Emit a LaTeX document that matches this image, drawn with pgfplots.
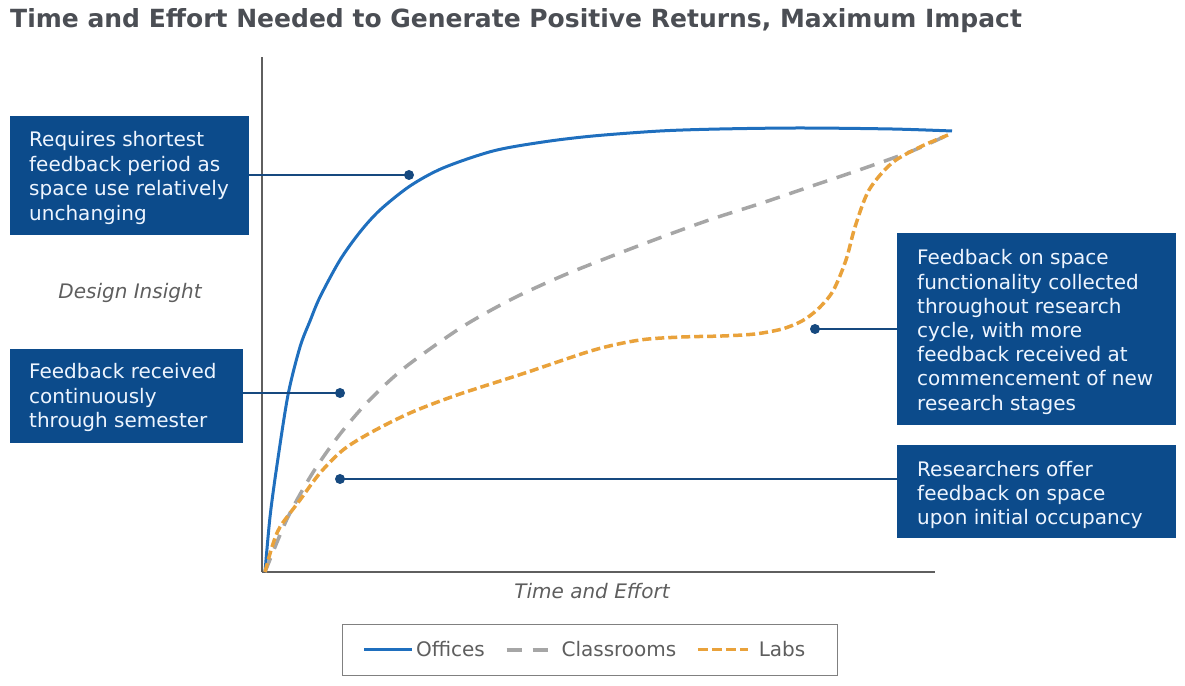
\documentclass[border=0pt]{standalone}
\usepackage{fontspec}
\setmainfont{DejaVu Sans}
\usepackage{pgfplots}
\pgfplotsset{compat=1.18}
\definecolor{offblue}{HTML}{1F6FBE}
\definecolor{clsgray}{HTML}{A6A6A6}
\definecolor{laborange}{HTML}{E9A23B}
\definecolor{boxnavy}{HTML}{0C4B8B}
\definecolor{leadnavy}{HTML}{16497F}
\definecolor{boxtext}{HTML}{EEF5FF}
\definecolor{axisgray}{HTML}{5F5F5F}
\definecolor{titlegray}{HTML}{4B4E54}
\definecolor{labelgray}{HTML}{5E5E5E}
\definecolor{legendgray}{HTML}{808080}
\newcommand{\boxfont}{\fontsize{20}{24}\selectfont}
\newcommand{\bl}[3]{\node[anchor=base west, inner sep=0pt, text=boxtext, font=\boxfont] at (#1,#2) {#3};}
\begin{document}
\begin{tikzpicture}[x=1pt,y=1pt]
\path[use as bounding box] (0,0) rectangle (1185,685);
\begin{axis}[
  at={(262pt,113pt)}, anchor=south west,
  scale only axis, width=673pt, height=515pt,
  xmin=0, xmax=673, ymin=0, ymax=515,
  axis lines=left,
  axis line style={-, draw=axisgray, line width=2pt},
  xtick=\empty, ytick=\empty,
  clip=false,
  legend columns=3,
  legend style={at={(0.1189,-0.101)}, anchor=north west,
    draw=legendgray, line width=1pt, inner xsep=20pt, inner ysep=17pt,
    font=\fontsize{20}{24}\selectfont, text=labelgray,
    nodes={inner sep=0pt},
    /tikz/every odd column/.append style={column sep=0pt},
    /tikz/every even column/.append style={column sep=20pt}},
]
\addplot[offblue, line width=3pt, smooth, forget plot] coordinates {
(3,0) (8,55) (15,107) (26,177) (38,225) (48,251) (58,275) (78,312) (98,340)
(118,362) (148,386) (181,404) (231,421) (281,430) (331,436) (398,441) (458,443)
(538,444) (630,443) (690,441)};
\addplot[clsgray, line width=3.5pt, smooth, dash pattern=on 15pt off 10pt, forget plot] coordinates {
(3,0) (25,53) (50,98) (75,134) (100,164) (125,189) (150,210) (200,245) (250,273)
(300,296) (350,316) (400,335) (450,353) (500,369) (550,386) (600,403) (650,421) (688,438)};
\addplot[laborange, line width=3.5pt, smooth, dash pattern=on 9pt off 4pt, forget plot] coordinates {
(3,0) (10,25) (18,45) (38,72) (58,99) (81,122) (108,139) (148,159) (195,177) (263,199)
(332,222) (378,232) (420,235) (460,236) (493,238) (520,243) (540,251) (556,263) (571,281) (584,312)
(593,345) (607,382) (630,409) (658,425) (686,437)};
\addlegendimage{legend image code/.code={\path[draw=none] (0pt,0pt) -- (52pt,0pt); \draw[offblue, line width=3pt] (0pt,0pt) -- (48pt,0pt);}}
\addlegendentry{Offices}
\addlegendimage{legend image code/.code={\path[draw=none] (0pt,0pt) -- (55pt,0pt); \draw[clsgray, line width=3.5pt, dash pattern=on 15pt off 11pt] (0pt,0pt) -- (41pt,0pt);}}
\addlegendentry{Classrooms}
\addlegendimage{legend image code/.code={\path[draw=none] (0pt,0pt) -- (61pt,0pt); \draw[laborange, line width=3pt, dash pattern=on 10pt off 4pt] (0pt,0pt) -- (50pt,0pt);}}
\addlegendentry{Labs\rule{12pt}{0pt}}
\end{axis}
% title and axis labels
\node[anchor=base west, inner sep=0pt, text=titlegray, font=\fontsize{25}{30}\selectfont\bfseries] at (10,657) {Time and Effort Needed to Generate Positive Returns, Maximum Impact};
\node[anchor=base, inner sep=0pt, text=labelgray, font=\fontsize{20}{24}\selectfont\itshape] at (130,386) {Design Insight};
\node[anchor=base, inner sep=0pt, text=labelgray, font=\fontsize{20}{24}\selectfont\itshape] at (592,86) {Time and Effort};
% leader lines
\draw[leadnavy, line width=2pt] (249,510) -- (409,510); \fill[leadnavy] (409,510) circle (5);
\draw[leadnavy, line width=2pt] (243,292) -- (340,292); \fill[leadnavy] (340,292) circle (5);
\draw[leadnavy, line width=2pt] (815,356) -- (897,356); \fill[leadnavy] (815,356) circle (5);
\draw[leadnavy, line width=2pt] (340,206) -- (897,206); \fill[leadnavy] (340,206) circle (5);
% boxes
\fill[boxnavy] (10,569) rectangle (249,450);
\bl{29}{538}{Requires shortest}
\bl{29}{513.6}{feedback period as}
\bl{29}{489.2}{space use relatively}
\bl{29}{464.8}{unchanging}
\fill[boxnavy] (10,336) rectangle (243,242);
\bl{29}{306}{Feedback received}
\bl{29}{281.5}{continuously}
\bl{29}{257}{through semester}
\fill[boxnavy] (897,452) rectangle (1176,260);
\bl{917}{420}{Feedback on space}
\bl{917}{395.8}{functionality collected}
\bl{917}{371.6}{throughout research}
\bl{917}{347.4}{cycle, with more}
\bl{917}{323.2}{feedback received at}
\bl{917}{299}{commencement of new}
\bl{917}{274.8}{research stages}
\fill[boxnavy] (897,240) rectangle (1176,147);
\bl{917}{208}{Researchers offer}
\bl{917}{184}{feedback on space}
\bl{917}{160}{upon initial occupancy}
\end{tikzpicture}
\end{document}
